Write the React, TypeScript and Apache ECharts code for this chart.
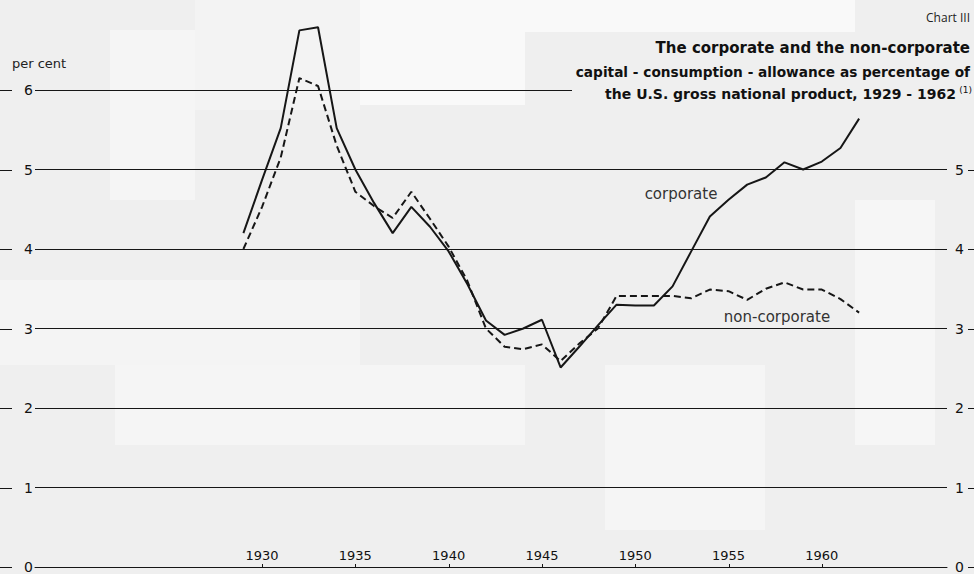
import React, { useEffect, useRef } from "react";
import * as echarts from "echarts";

const years = [1929, 1930, 1931, 1932, 1933, 1934, 1935, 1936, 1937, 1938, 1939, 1940, 1941, 1942, 1943, 1944, 1945, 1946, 1947, 1948, 1949, 1950, 1951, 1952, 1953, 1954, 1955, 1956, 1957, 1958, 1959, 1960, 1961, 1962];
const corporate = [4.2, 4.87, 5.52, 6.75, 6.79, 5.52, 5.0, 4.58, 4.2, 4.53, 4.28, 3.97, 3.56, 3.1, 2.92, 3.0, 3.11, 2.51, 2.77, 3.04, 3.3, 3.29, 3.29, 3.53, 3.97, 4.41, 4.62, 4.81, 4.9, 5.09, 5.0, 5.1, 5.27, 5.64];
const nonCorporate = [4.0, 4.53, 5.15, 6.15, 6.05, 5.3, 4.72, 4.54, 4.39, 4.72, 4.38, 4.03, 3.6, 3.0, 2.77, 2.74, 2.8, 2.59, 2.81, 3.0, 3.41, 3.41, 3.41, 3.41, 3.38, 3.49, 3.47, 3.36, 3.5, 3.58, 3.49, 3.49, 3.37, 3.2];
const xTickYears = [1930, 1935, 1940, 1945, 1950, 1955, 1960];
const yTicks = [0, 1, 2, 3, 4, 5, 6];
const yMin = 0;
const yMax = 6;

const BG = "#efefef";
const INK = "#161616";

export default function App() {
  const ref = useRef<HTMLDivElement>(null);
  useEffect(() => {
    if (!ref.current) return;
    const chart = echarts.init(ref.current, null, { renderer: "svg" });
    const corpData = years.map((y, i) => [y, corporate[i]]);
    const nonData = years.map((y, i) => [y, nonCorporate[i]]);
    const patch = (x: number, y: number, w: number, h: number, fill: string) => ({
      type: "rect",
      z: -5,
      silent: true,
      shape: { x, y, width: w, height: h },
      style: { fill },
    });
    chart.setOption({
      animation: false,
      backgroundColor: BG,
      grid: { left: 35, right: 27, top: 90, bottom: 6, containLabel: false },
      xAxis: {
        type: "value",
        min: 1917.83,
        max: 1966.71,
        axisLine: { show: true, lineStyle: { color: INK, width: 1 } },
        axisTick: { show: false },
        axisLabel: {
          inside: true,
          margin: 5,
          customValues: xTickYears,
          formatter: (v: number) => String(v),
          fontSize: 13,
          color: "#111",
          fontFamily: "DejaVu Sans",
        },
        splitLine: { show: false },
      },
      yAxis: [
        {
          type: "value",
          min: yMin,
          max: yMax,
          interval: 1,
          position: "left",
          axisLine: { show: false },
          axisTick: { show: false },
          axisLabel: { margin: 2, fontSize: 14, color: "#111", fontFamily: "DejaVu Sans" },
          splitLine: { show: true, lineStyle: { color: INK, width: 1 } },
        },
        {
          type: "value",
          min: yMin,
          max: yMax,
          interval: 1,
          position: "right",
          axisLine: { show: false },
          axisTick: { show: false },
          axisLabel: {
            margin: 8,
            fontSize: 14,
            color: "#111",
            fontFamily: "DejaVu Sans",
            formatter: (v: number) => (v === 6 ? "" : String(v)),
          },
          splitLine: { show: false },
        },
      ],
      series: [
        {
          name: "corporate",
          type: "line",
          data: corpData,
          yAxisIndex: 0,
          symbol: "none",
          clip: false,
          z: 3,
          lineStyle: { color: INK, width: 2 },
        },
        {
          name: "non-corporate",
          type: "line",
          data: nonData,
          yAxisIndex: 0,
          symbol: "none",
          clip: false,
          z: 3,
          lineStyle: { color: INK, width: 2, type: [7, 4] },
        },
      ],
    });

    // tick dashes placed through the library's own scales
    const tickEls: any[] = [];
    yTicks.forEach((v) => {
      const py = chart.convertToPixel({ yAxisIndex: 0 }, v) as number;
      const y = Math.round(py) + 0.5;
      tickEls.push({ type: "line", z: 4, silent: true, shape: { x1: 0, y1: y, x2: 12, y2: y }, style: { stroke: INK, lineWidth: 1 } });
      if (v !== 6) {
        tickEls.push({ type: "line", z: 4, silent: true, shape: { x1: 968, y1: y, x2: 974, y2: y }, style: { stroke: INK, lineWidth: 1 } });
      }
    });
    const axisY = Math.round(chart.convertToPixel({ yAxisIndex: 0 }, 0) as number);
    xTickYears.forEach((yr) => {
      const px = Math.round(chart.convertToPixel({ xAxisIndex: 0 }, yr) as number) + 0.5;
      tickEls.push({ type: "line", z: 4, silent: true, shape: { x1: px, y1: axisY - 3, x2: px, y2: axisY }, style: { stroke: INK, lineWidth: 1 } });
    });

    chart.setOption({
      graphic: [
        patch(110, 30, 85, 170, "#f5f5f5"),
        patch(195, 0, 165, 110, "#f3f3f3"),
        patch(360, 0, 165, 105, "#f9f9f9"),
        patch(525, 0, 330, 32, "#f9f9f9"),
        patch(115, 365, 410, 80, "#f5f5f5"),
        patch(0, 280, 360, 85, "#f4f4f4"),
        patch(855, 200, 80, 245, "#f6f6f6"),
        patch(605, 365, 160, 165, "#f5f5f5"),
        ...tickEls,
        {
          type: "rect",
          z: 10,
          silent: true,
          shape: { x: 572, y: 84, width: 402, height: 14 },
          style: { fill: BG },
        },
        {
          type: "text",
          z: 11,
          x: 970,
          y: 17,
          style: { text: "Chart III", fontSize: 12, fontFamily: "Open Sans", fill: "#222", textAlign: "right", textVerticalAlign: "middle" },
        },
        {
          type: "text",
          z: 11,
          x: 970,
          y: 48,
          style: { text: "The corporate and the non-corporate", fontSize: 15, fontWeight: "bold", fontFamily: "DejaVu Sans", fill: "#111", textAlign: "right", textVerticalAlign: "middle" },
        },
        {
          type: "text",
          z: 11,
          x: 970,
          y: 72,
          style: { text: "capital - consumption - allowance as percentage of", fontSize: 13.7, fontWeight: "bold", fontFamily: "DejaVu Sans", fill: "#111", textAlign: "right", textVerticalAlign: "middle" },
        },
        {
          type: "text",
          z: 11,
          x: 956,
          y: 94,
          style: { text: "the U.S. gross national product, 1929 - 1962", fontSize: 14, fontWeight: "bold", fontFamily: "DejaVu Sans", fill: "#111", textAlign: "right", textVerticalAlign: "middle" },
        },
        {
          type: "text",
          z: 11,
          x: 972,
          y: 90,
          style: { text: "(1)", fontSize: 9, fontFamily: "DejaVu Sans", fill: "#111", textAlign: "right", textVerticalAlign: "middle" },
        },
        {
          type: "text",
          z: 11,
          x: 12,
          y: 63,
          style: { text: "per cent", fontSize: 13, fontFamily: "DejaVu Sans", fill: "#222", textAlign: "left", textVerticalAlign: "middle" },
        },
        {
          type: "text",
          z: 11,
          x: 681,
          y: 194,
          style: { text: "corporate", fontSize: 15, fontFamily: "DejaVu Sans", fill: "#333", textAlign: "center", textVerticalAlign: "middle" },
        },
        {
          type: "text",
          z: 11,
          x: 777,
          y: 317,
          style: { text: "non-corporate", fontSize: 15, fontFamily: "DejaVu Sans", fill: "#333", textAlign: "center", textVerticalAlign: "middle" },
        },
      ],
    });
    return () => chart.dispose();
  }, []);
  return <div ref={ref} style={{ position: "fixed", left: 0, top: 0, width: 974, height: 574 }} />;
}
